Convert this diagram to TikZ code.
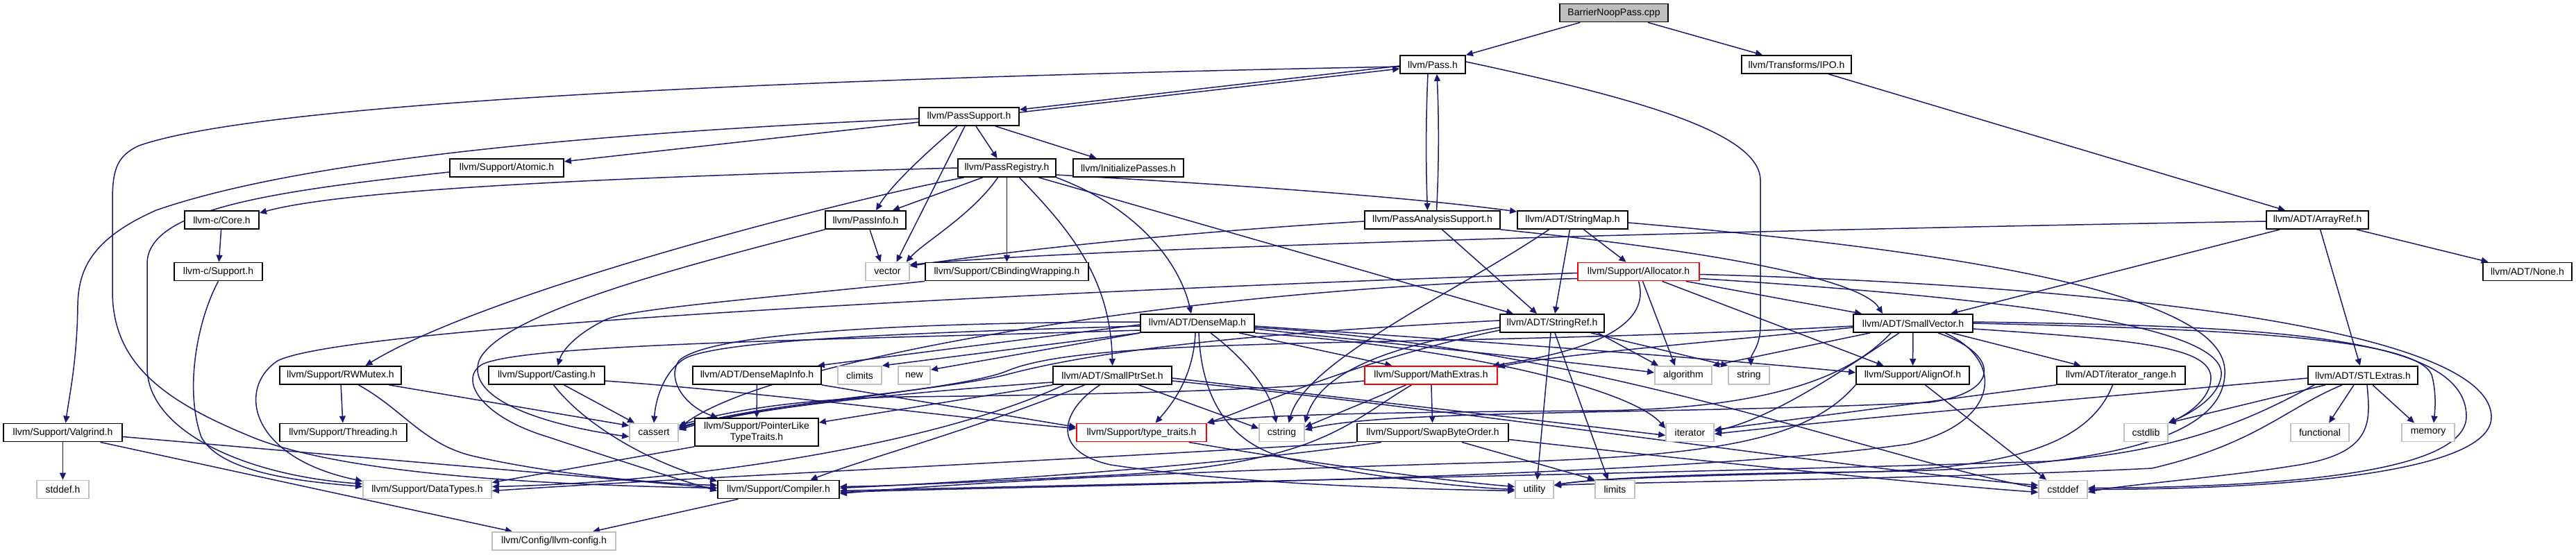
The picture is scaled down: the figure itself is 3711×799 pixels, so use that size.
\documentclass[tikz,border=0pt]{standalone}
\usepackage{fontspec}
\setmainfont{Liberation Sans}
\usetikzlibrary{arrows.meta}
\definecolor{edgeblue}{HTML}{191970}
\definecolor{sysgray}{HTML}{BFBFBF}
\definecolor{truncred}{HTML}{FF0000}
\pgfdeclarelayer{back}
\pgfdeclarelayer{bg}
\pgfsetlayers{back,bg,main}
\begin{document}
\begin{tikzpicture}[x=0.5pt,y=-0.5pt,
  nd/.style={draw=black,line width=0.9pt,rectangle,inner sep=0pt,minimum height=13pt,
    fill=white,font=\fontsize{7pt}{8pt}\selectfont,align=center},
  sys/.style={nd,draw=sysgray},
  trunc/.style={nd,draw=truncred},
  rootnode/.style={nd,fill=sysgray},
  dep/.style={draw=edgeblue,line width=0.75pt,-{Triangle[length=5pt,width=4.5pt]}}]
\begin{pgfonlayer}{back}
\fill[white] (0,0) rectangle (3711,799);
\end{pgfonlayer}
\useasboundingbox (0,0) rectangle (3711,799);
% row 0
\node[rootnode,minimum width=78pt] (root) at (2325,18.5) {BarrierNoopPass.cpp};
% row 1
\node[nd,minimum width=47pt] (pass) at (2064,93) {llvm/Pass.h};
\node[nd,minimum width=79pt] (ipo) at (2588,93) {llvm/Transforms/IPO.h};
% row 2
\node[nd,minimum width=72pt] (passsupport) at (1396,168) {llvm/PassSupport.h};
% row 3
\node[nd,minimum width=82pt] (atomic) at (730,242) {llvm/Support/Atomic.h};
\node[nd,minimum width=70.5pt] (passreg) at (1450.5,242) {llvm/PassRegistry.h};
\node[nd,minimum width=79.5pt] (initpasses) at (1625.5,242) {llvm/InitializePasses.h};
% row 4
\node[nd,minimum width=53.5pt] (core) at (319.5,317) {llvm-c/Core.h};
\node[nd,minimum width=58pt] (passinfo) at (1247,317) {llvm/PassInfo.h};
\node[nd,minimum width=97.5pt] (pas) at (2063.5,317) {llvm/PassAnalysisSupport.h};
\node[nd,minimum width=79.5pt] (stringmap) at (2265.5,317) {llvm/ADT/StringMap.h};
\node[nd,minimum width=73.5pt] (arrayref) at (3338.5,317) {llvm/ADT/ArrayRef.h};
% row 5
\node[nd,minimum width=63.5pt] (csupport) at (314.5,391.5) {llvm-c/Support.h};
\node[sys,minimum width=31.5pt] (vector) at (1278.5,391.5) {vector};
\node[nd,minimum width=117.5pt] (cbinding) at (1450.5,391.5) {llvm/Support/CBindingWrapping.h};
\node[trunc,minimum width=87.5pt] (allocator) at (2360.5,391.5) {llvm/Support/Allocator.h};
\node[nd,minimum width=64pt] (none) at (3641,391.5) {llvm/ADT/None.h};
% row 6
\node[nd,minimum width=82pt] (densemap) at (1725,466) {llvm/ADT/DenseMap.h};
\node[nd,minimum width=75pt] (stringref) at (2236,466) {llvm/ADT/StringRef.h};
\node[nd,minimum width=86pt] (smallvector) at (2756,466) {llvm/ADT/SmallVector.h};
% row 7
\node[nd,minimum width=87.5pt] (rwmutex) at (490.5,541) {llvm/Support/RWMutex.h};
\node[nd,minimum width=83.5pt] (casting) at (787.5,541) {llvm/Support/Casting.h};
\node[nd,minimum width=92.5pt] (densemapinfo) at (1090.5,541) {llvm/ADT/DenseMapInfo.h};
\node[sys,minimum width=31.5pt] (climits) at (1238.5,541) {climits};
\node[sys,minimum width=23pt] (new) at (1317,541) {new};
\node[nd,minimum width=85.5pt] (smallptrset) at (1602.5,541) {llvm/ADT/SmallPtrSet.h};
\node[trunc,minimum width=95.5pt] (mathextras) at (2061.5,541) {llvm/Support/MathExtras.h};
\node[sys,minimum width=41pt] (algorithm) at (2425,541) {algorithm};
\node[sys,minimum width=29.5pt] (string) at (2519.5,541) {string};
\node[nd,minimum width=81.5pt] (alignof) at (2755.5,541) {llvm/Support/AlignOf.h};
\node[nd,minimum width=92.5pt] (iterrange) at (3055.5,541) {llvm/ADT/iterator\_range.h};
\node[nd,minimum width=79pt] (stlextras) at (3404,541) {llvm/ADT/STLExtras.h};
% row 8
\node[nd,minimum width=85.5pt] (valgrind) at (90.5,623.5) {llvm/Support/Valgrind.h};
\node[nd,minimum width=91.5pt] (threading) at (494.5,623.5) {llvm/Support/Threading.h};
\node[sys,minimum width=35pt] (cassert) at (942,623.5) {cassert};
\node[nd,minimum width=89pt,minimum height=20pt] (pointerlike) at (1090,623) {llvm/Support/PointerLike\\TypeTraits.h};
\node[trunc,minimum width=93.5pt] (typetraits) at (1644.5,623.5) {llvm/Support/type\_traits.h};
\node[sys,minimum width=32.5pt] (cstring) at (1846.5,623.5) {cstring};
\node[nd,minimum width=109pt] (swapbyte) at (2064,623.5) {llvm/Support/SwapByteOrder.h};
\node[sys,minimum width=34.5pt] (iterator) at (2434.5,623.5) {iterator};
\node[sys,minimum width=31.5pt] (cstdlib) at (3091.5,623.5) {cstdlib};
\node[sys,minimum width=42pt] (functional) at (3342,623.5) {functional};
\node[sys,minimum width=38pt] (memory) at (3498,623.5) {memory};
% row 9
\node[sys,minimum width=37.5pt] (stddef) at (90.5,705.5) {stddef.h};
\node[sys,minimum width=92.5pt] (datatypes) at (615.5,705.5) {llvm/Support/DataTypes.h};
\node[nd,minimum width=87.5pt] (compiler) at (1121.5,705.5) {llvm/Support/Compiler.h};
\node[sys,minimum width=27.5pt] (utility) at (2210.5,705.5) {utility};
\node[sys,minimum width=28.5pt] (limits) at (2326.5,705.5) {limits};
\node[sys,minimum width=35pt] (cstddef) at (2972,705.5) {cstddef};
% row 10
\node[sys,minimum width=89pt] (llvmconfig) at (798,780) {llvm/Config/llvm-config.h};

\begin{pgfonlayer}{bg}
% root
\draw[dep] (root) -- (pass);
\draw[dep] (root) -- (ipo);
% Pass.h
\draw[dep] ([yshift=-1pt]pass.west) -- ([yshift=5pt]passsupport.east);
\draw[dep] ([yshift=3pt]passsupport.east) -- ([yshift=-3pt]pass.west);
\draw[dep] ([xshift=-3.5pt]pass.south) .. controls (2054,170) and (2054,240) .. ([xshift=-3.5pt]pas.north);
\draw[dep] ([xshift=3pt]pas.north) .. controls (2073,240) and (2073,170) .. ([xshift=3pt]pass.south);
\draw[dep] ([yshift=-1.5pt]pass.west) .. controls (1300,110) and (400,140) .. (200,210) .. controls (168,225) and (162,245) .. (162,290) -- (162,420) .. controls (162,520) and (230,575) .. (356,627) .. controls (500,690) and (850,700) .. ([yshift=1pt]compiler.west);
\draw[dep] ([yshift=2pt]pass.east) .. controls (2350,140) and (2536,190) .. (2536,260) -- (2536,470) .. controls (2536,500) and (2522,510) .. ([xshift=1.5pt]string.north);
% IPO
\draw[dep] (ipo) -- (arrayref);
% PassSupport
\draw[dep] (passsupport) -- (atomic);
\draw[dep] ([yshift=-1.5pt]passsupport.west) .. controls (900,190) and (450,225) .. (225,303) .. controls (130,345) and (113,390) .. (112,440) .. controls (111,520) and (100,570) .. ([xshift=2pt]valgrind.north);
\draw[dep] ([xshift=-8.5pt]passsupport.south) .. controls (1340,215) and (1285,265) .. ([xshift=7.5pt]passinfo.north);
\draw[dep] ([xshift=-3pt]passsupport.south) -- ([xshift=6.5pt]vector.north);
\draw[dep] ([xshift=5pt]passsupport.south) -- ([xshift=-7pt]passreg.north);
\draw[dep] ([xshift=19pt]passsupport.south) -- ([xshift=-23pt]initpasses.north);
% PassRegistry
\draw[dep] (passreg.west) .. controls (900,255) and (500,272) .. ([yshift=5pt]core.east);
\draw[dep] ([xshift=-17.5pt]passreg.south) -- ([xshift=19.5pt]passinfo.north);
\draw[dep] ([xshift=-6.5pt]passreg.south) .. controls (1400,310) and (1330,350) .. ([xshift=13.5pt]vector.north);
\draw[dep] (passreg) -- (cbinding);
\draw[dep] ([xshift=9pt]passreg.south) .. controls (1540,330) and (1600,400) .. (smallptrset.north);
\draw[dep] (passreg.south east) .. controls (1640,300) and (1700,380) .. ([xshift=-4.5pt]densemap.north);
\draw[dep] ([yshift=-5pt]passreg.east) .. controls (1700,262) and (2000,280) .. ([yshift=6pt]stringmap.west);
\draw[dep] ([xshift=23pt]passreg.south) -- ([xshift=-28pt]stringref.north);
\draw[dep] ([xshift=-31pt]passreg.south) .. controls (1230,285) and (700,420) .. ([xshift=18pt]rwmutex.north);
% PassInfo
\draw[dep] ([xshift=3pt]passinfo.south) -- ([xshift=-5pt]vector.north);
\draw[dep] (passinfo.south west) .. controls (1000,380) and (720,450) .. (690,520) .. controls (670,580) and (800,615) .. ([yshift=-3pt]cassert.west);
% Atomic, llvm-c
\draw[dep] ([yshift=-3pt]atomic.west) .. controls (400,275) and (212,300) .. (212,380) -- (212,530) .. controls (212,620) and (350,685) .. ([yshift=4pt]datatypes.west);
\draw[dep] (core) -- (csupport);
\draw[dep] (csupport.south) .. controls (285,460) and (265,560) .. (290,630) .. controls (320,685) and (450,695) .. ([yshift=2pt]datatypes.west);
% Valgrind
\draw[dep] (valgrind) -- (stddef);
\draw[dep] ([yshift=-3pt]valgrind.east) -- ([yshift=1pt]compiler.west);
\draw[dep] ([xshift=27pt]valgrind.south) -- ([xshift=-30pt]llvmconfig.north);
% RWMutex
\draw[dep] (rwmutex) -- (threading);
\draw[dep] ([xshift=35pt]rwmutex.south) -- ([yshift=5pt]cassert.west);
\draw[dep] ([xshift=13pt]rwmutex.south) .. controls (580,590) and (610,640) .. (680,657) .. controls (800,685) and (950,697) .. ([yshift=3pt]compiler.west);
% Casting
\draw[dep] ([xshift=12.5pt]casting.south) -- ([xshift=-14pt]cassert.north);
\draw[dep] ([xshift=5pt]casting.south) .. controls (840,610) and (930,665) .. ([yshift=6pt]compiler.west);
\draw[dep] ([yshift=-4pt]casting.east) .. controls (1100,565) and (1400,605) .. ([yshift=3pt]typetraits.west);
% CBindingWrapping
\draw[dep] (cbinding.south west) .. controls (1100,430) and (900,445) .. (870,462) .. controls (830,482) and (810,505) .. ([xshift=8pt]casting.north);
% DenseMapInfo, PointerLikeTypeTraits, Compiler
\draw[dep] (densemapinfo) -- (pointerlike);
\draw[dep] (densemapinfo.south east) -- ([yshift=4pt]typetraits.west);
\draw[dep] (pointerlike.south west) -- ([yshift=5pt]datatypes.east);
\draw[dep] ([xshift=-29pt]compiler.south) -- ([xshift=28pt]llvmconfig.north);
\draw[dep] ([xshift=34pt]typetraits.south) .. controls (1900,670) and (2100,695) .. ([yshift=2pt]utility.west);
% DenseMap
\draw[dep] ([yshift=-1pt]densemap.west) -- ([xshift=-3pt]densemapinfo.north east);
\draw[dep] (densemap.south west) -- (climits.north east);
\draw[dep] (densemap.south west) -- ([yshift=4pt]new.east);
\draw[dep] ([yshift=-2pt]densemap.west) .. controls (1300,480) and (1050,490) .. (990,515) .. controls (960,530) and (945,570) .. (cassert.north);
\draw[dep] ([yshift=1pt]densemap.west) .. controls (1300,465) and (1020,480) .. (978,520) .. controls (960,545) and (985,585) .. ([xshift=-28pt]pointerlike.north);
\draw[dep] ([yshift=-5pt]densemap.west) .. controls (1200,490) and (760,495) .. (695,525) .. controls (660,545) and (690,600) .. (790,630) .. controls (880,660) and (980,692) .. ([yshift=-1pt]compiler.west);
\draw[dep] ([xshift=-1.5pt]densemap.south) .. controls (1720,530) and (1700,570) .. ([xshift=10pt]typetraits.north);
\draw[dep] ([xshift=9.5pt]densemap.south) .. controls (1790,515) and (1830,560) .. ([xshift=-4pt]cstring.north);
\draw[dep] ([xshift=1pt]densemap.south) .. controls (1730,560) and (1760,640) .. (1860,662) .. controls (1980,690) and (2120,703) .. (utility.west);
\draw[dep] ([xshift=30pt]densemap.south) -- ([xshift=-28pt]mathextras.north);
\draw[dep] ([yshift=-2pt]densemap.east) .. controls (2100,490) and (2450,515) .. ([yshift=2pt]alignof.west);
\draw[dep] ([yshift=-4pt]densemap.east) .. controls (2000,495) and (2250,520) .. ([yshift=2pt]algorithm.west);
\draw[dep] (densemap.south east) .. controls (2100,500) and (2350,560) .. ([yshift=3pt]iterator.west);
\draw[dep] ([yshift=-3pt]densemap.east) .. controls (2300,500) and (2700,660) .. ([yshift=1pt]cstddef.west);
% SmallPtrSet
\draw[dep] ([xshift=-20pt]smallptrset.south) .. controls (1400,620) and (1250,660) .. ([xshift=23pt]compiler.north);
\draw[dep] ([yshift=-5pt]smallptrset.west) .. controls (1350,562) and (1100,585) .. ([yshift=4pt]cassert.east);
\draw[dep] (smallptrset.south west) -- ([yshift=7pt]pointerlike.east);
\draw[dep] ([xshift=-35pt]smallptrset.south) .. controls (1350,640) and (1000,695) .. ([yshift=2pt]datatypes.east);
\draw[dep] ([xshift=19pt]smallptrset.south) -- ([yshift=3pt]cstring.west);
\draw[dep] ([xshift=-9pt]smallptrset.south) .. controls (1530,590) and (1510,650) .. (1600,670) .. controls (1800,700) and (2050,705) .. ([yshift=-1pt]utility.west);
\draw[dep] ([yshift=-2pt]smallptrset.east) .. controls (1950,575) and (2250,610) .. ([yshift=-2pt]iterator.west);
\draw[dep] ([yshift=-4pt]smallptrset.east) .. controls (2100,590) and (2700,680) .. ([yshift=3pt]cstddef.west);
% StringMap
\draw[dep] ([xshift=-2pt]stringmap.south) -- ([xshift=2pt]stringref.north);
\draw[dep] ([xshift=8pt]stringmap.south) -- ([xshift=-9pt]allocator.north);
\draw[dep] ([xshift=-17pt]stringmap.south) .. controls (2100,420) and (1880,520) .. ([xshift=5pt]cstring.north);
\draw[dep] ([yshift=-2pt]stringmap.east) .. controls (2800,360) and (3200,420) .. (3205,533) .. controls (3210,640) and (3000,675) .. (2700,680) .. controls (2450,682) and (2290,690) .. ([yshift=3pt]utility.east);
% Allocator
\draw[dep] ([yshift=-1pt]allocator.west) .. controls (1500,420) and (500,470) .. (400,520) .. controls (340,560) and (360,660) .. ([yshift=6pt]datatypes.west);
\draw[dep] (allocator.south) .. controls (2375,455) and (2330,500) .. ([xshift=-4pt]mathextras.north east);
\draw[dep] ([xshift=3pt]allocator.south) -- ([xshift=-6pt]algorithm.north);
\draw[dep] ([xshift=17pt]allocator.south) -- ([xshift=-21pt]alignof.north);
\draw[dep] ([xshift=34pt]allocator.south) -- ([xshift=-37pt]smallvector.north);
\draw[dep] ([yshift=-5pt]allocator.west) .. controls (1700,415) and (1100,520) .. ([yshift=3pt]cassert.east);
\draw[dep] ([yshift=-2pt]allocator.east) .. controls (3000,410) and (3585,470) .. (3589,600) .. controls (3592,680) and (3300,705) .. (cstddef.east);
\draw[dep] ([yshift=-5pt]allocator.east) .. controls (2900,430) and (3205,470) .. (3200,540) .. controls (3197,575) and (3150,598) .. (cstdlib.north east);
% StringRef
\draw[dep] ([xshift=33pt]stringref.south) -- ([xshift=3pt]algorithm.north west);
\draw[dep] ([xshift=28pt]stringref.south) -- (string.north west);
\draw[dep] ([xshift=-1pt]stringref.south) -- ([xshift=2pt]utility.north);
\draw[dep] ([xshift=2pt]stringref.south) -- ([xshift=-5pt]limits.north);
\draw[dep] ([yshift=-3pt]stringref.west) .. controls (1990,500) and (1900,540) .. (cstring.north east);
\draw[dep] ([yshift=2pt]stringref.west) .. controls (1850,478) and (1600,500) .. (1450,540) .. controls (1350,565) and (1100,580) .. ([yshift=3pt]cassert.east);
\draw[dep] ([yshift=-5pt]stringref.west) .. controls (1950,520) and (1800,590) .. (typetraits.north east);
% MathExtras
\draw[dep] (mathextras) -- (swapbyte);
\draw[dep] ([xshift=-18pt]mathextras.south) -- ([yshift=4pt]cstring.east);
\draw[dep] ([xshift=-14pt]mathextras.south) .. controls (1940,610) and (1900,670) .. (1600,685) .. controls (1400,695) and (1300,700) .. ([yshift=2pt]compiler.east);
\draw[dep] ([yshift=-4pt]mathextras.west) .. controls (1800,565) and (1500,570) .. (1300,572) .. controls (1150,575) and (1050,592) .. ([yshift=5pt]cassert.east);
% SwapByteOrder
\draw[dep] ([xshift=21pt]swapbyte.south) -- (limits.north west);
\draw[dep] ([xshift=-37pt]swapbyte.south) .. controls (1800,665) and (1500,690) .. ([yshift=1pt]compiler.east);
\draw[dep] (swapbyte.south west) .. controls (1600,660) and (1000,688) .. ([yshift=-1pt]datatypes.east);
\draw[dep] ([yshift=-5pt]swapbyte.east) .. controls (2500,670) and (2800,700) .. ([yshift=-2pt]cstddef.west);
% SmallVector
\draw[dep] (smallvector) -- (alignof);
\draw[dep] ([xshift=28pt]smallvector.south) -- ([xshift=-29pt]iterrange.north);
\draw[dep] ([xshift=-31pt]smallvector.south) -- (algorithm.north east);
\draw[dep] ([yshift=-3pt]smallvector.west) .. controls (2500,490) and (2250,510) .. ([yshift=6pt]mathextras.east);
\draw[dep] ([xshift=-10pt]smallvector.south) .. controls (2660,530) and (2560,600) .. ([yshift=1pt]iterator.east);
\draw[dep] ([xshift=-16pt]smallvector.south) .. controls (2650,560) and (2500,590) .. (2300,592) .. controls (2000,594) and (1800,598) .. (typetraits.north east);
\draw[dep] ([yshift=-2pt]smallvector.west) .. controls (2450,482) and (2200,488) .. (2000,492) .. controls (1700,498) and (1520,505) .. (1450,535) .. controls (1380,563) and (1100,582) .. ([yshift=2pt]cassert.east);
\draw[dep] ([xshift=18pt]smallvector.south) .. controls (2880,510) and (2885,565) .. (2780,580) .. controls (2400,598) and (2000,590) .. ([yshift=2pt]cstring.east);
\draw[dep] ([xshift=23pt]smallvector.south) .. controls (2890,520) and (2880,610) .. (2750,640) .. controls (2400,690) and (1500,700) .. ([yshift=-2pt]compiler.east);
\draw[dep] ([yshift=-4pt]smallvector.east) .. controls (3080,490) and (3185,500) .. (3185,545) .. controls (3185,575) and (3150,598) .. (cstdlib.north east);
\draw[dep] (smallvector.east) .. controls (3250,475) and (3480,490) .. (3503,540) .. controls (3510,565) and (3508,590) .. ([xshift=4pt]memory.north);
\draw[dep] ([yshift=1pt]smallvector.east) .. controls (3250,470) and (3553,480) .. (3553,600) .. controls (3553,680) and (3300,702) .. ([yshift=1pt]cstddef.east);
% AlignOf
\draw[dep] ([xshift=9pt]alignof.south) -- ([xshift=-12pt]cstddef.north);
\draw[dep] (alignof.south west) .. controls (2600,640) and (2450,660) .. (2100,668) .. controls (1700,680) and (1400,695) .. ([yshift=-3pt]compiler.east);
% iterator_range
\draw[dep] ([xshift=-6pt]iterrange.south) .. controls (3010,640) and (2900,672) .. (2700,680) .. controls (2450,685) and (2290,690) .. ([yshift=3pt]utility.east);
\draw[dep] (iterrange.south west) -- ([yshift=2pt]iterator.east);
% STLExtras
\draw[dep] ([xshift=-27pt]stlextras.south) -- (cstdlib.north east);
\draw[dep] ([xshift=-6.5pt]stlextras.south) -- ([xshift=6.5pt]functional.north);
\draw[dep] ([xshift=7pt]stlextras.south) -- ([xshift=-10pt]memory.north);
\draw[dep] ([xshift=3pt]stlextras.south) .. controls (3415,610) and (3420,655) .. (3300,672) .. controls (3200,688) and (3050,700) .. ([yshift=-2pt]cstddef.east);
\draw[dep] ([xshift=-15pt]stlextras.south) .. controls (3290,590) and (3250,640) .. (3100,675) .. controls (2800,690) and (2350,695) .. ([yshift=3pt]utility.east);
\draw[dep] ([yshift=-2pt]stlextras.west) .. controls (3000,575) and (2700,600) .. ([yshift=-1pt]iterator.east);
\draw[dep] ([xshift=-35pt]stlextras.south) .. controls (3250,600) and (3150,650) .. (2950,665) .. controls (2500,680) and (1500,700) .. ([yshift=-1pt]compiler.east);
% ArrayRef
\draw[dep] (arrayref) -- (none);
\draw[dep] (arrayref) -- (smallvector);
\draw[dep] (arrayref) -- (stlextras);
\draw[dep] ([yshift=-1pt]arrayref.west) .. controls (2600,330) and (1600,355) .. ([yshift=5pt]vector.east);
% PassAnalysisSupport
\draw[dep] ([yshift=-1pt]pas.west) .. controls (1700,335) and (1450,362) .. ([yshift=4pt]vector.east);
\draw[dep] ([xshift=7pt]pas.south) -- ([xshift=-11pt]stringref.north);
\draw[dep] (pas.south east) .. controls (2450,360) and (2680,400) .. ([xshift=-22pt]smallvector.north);
\end{pgfonlayer}
\end{tikzpicture}
\end{document}
